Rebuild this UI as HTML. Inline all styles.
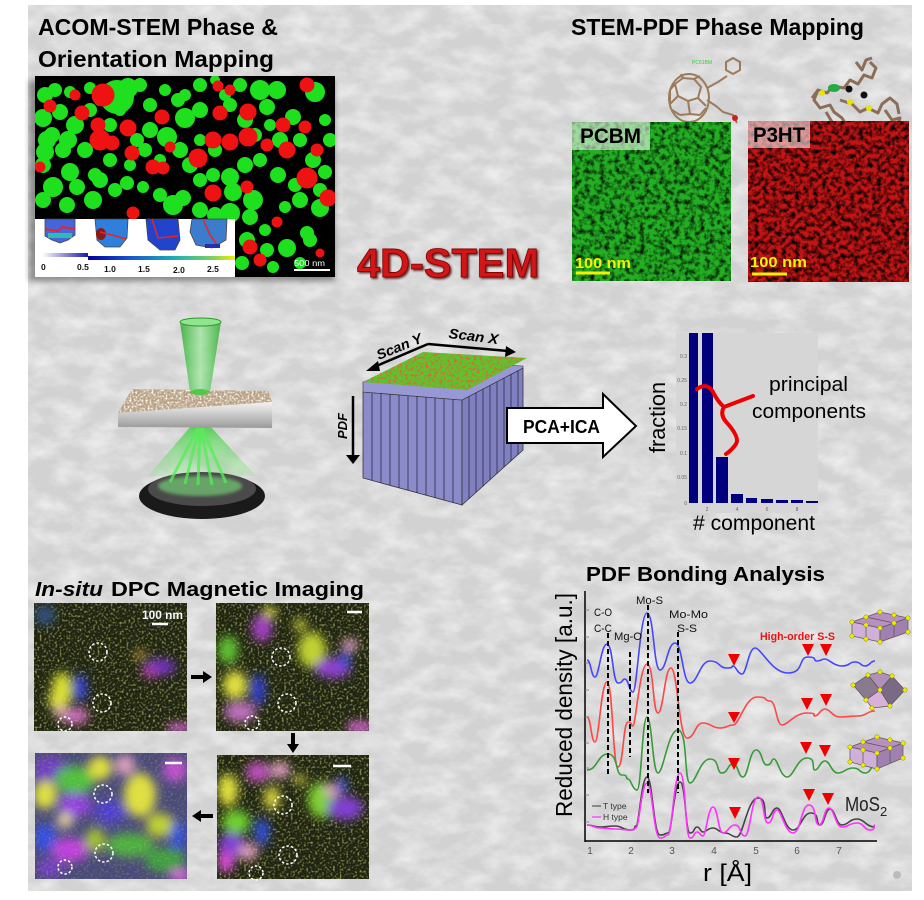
<!DOCTYPE html>
<html><head><meta charset="utf-8"><style>html,body{margin:0;padding:0;background:#fff}svg{display:block}</style></head>
<body>
<svg width="924" height="900" viewBox="0 0 924 900" xmlns="http://www.w3.org/2000/svg" font-family="'Liberation Sans', sans-serif">
<defs>
<filter id="bgtex" x="0" y="0" width="1" height="1"><feTurbulence type="fractalNoise" baseFrequency="0.035 0.06" numOctaves="4" seed="7"/><feColorMatrix values="0 0 0 0 1  0 0 0 0 1  0 0 0 0 1  1.1 0 0 0 -0.38"/></filter>
<filter id="noiseK" x="0" y="0" width="1" height="1"><feTurbulence type="fractalNoise" baseFrequency="0.2" numOctaves="3" seed="3"/><feColorMatrix values="0 0 0 0 0  0 0 0 0 0  0 0 0 0 0  2.2 0 0 0 -0.9"/></filter>
<filter id="noiseK2" x="0" y="0" width="1" height="1"><feTurbulence type="fractalNoise" baseFrequency="0.22" numOctaves="3" seed="11"/><feColorMatrix values="0 0 0 0 0  0 0 0 0 0  0 0 0 0 0  2.4 0 0 0 -0.9"/></filter>
<filter id="noiseR" x="0" y="0" width="1" height="1"><feTurbulence type="fractalNoise" baseFrequency="0.35" numOctaves="2" seed="5"/><feColorMatrix values="0 0 0 0 0.85  0 0 0 0 0.1  0 0 0 0 0.05  3 0 0 0 -1.4"/><feComposite in2="SourceGraphic" operator="in"/></filter>
<filter id="speck" x="0" y="0" width="1" height="1"><feTurbulence type="fractalNoise" baseFrequency="0.45" numOctaves="1" seed="9"/><feColorMatrix values="0 0 0 0 0.55  0 0 0 0 0.55  0 0 0 0 0.15  2.6 0 0 0 -1.3"/></filter>
<filter id="slabtex" x="0" y="0" width="1" height="1"><feTurbulence type="fractalNoise" baseFrequency="0.5" numOctaves="1" seed="4"/><feColorMatrix values="0 0 0 0 1  0 0 0 0 0.97  0 0 0 0 0.85  3 0 0 0 -1.3"/><feComposite in2="SourceGraphic" operator="in"/></filter>
<filter id="blur3" x="-50%" y="-50%" width="200%" height="200%"><feGaussianBlur stdDeviation="5"/></filter>
<filter id="blur2"><feGaussianBlur stdDeviation="1.5"/></filter>
<filter id="shad" x="-10%" y="-10%" width="130%" height="130%"><feGaussianBlur stdDeviation="3"/></filter>
<filter id="txtsh" x="-5%" y="-10%" width="115%" height="130%"><feDropShadow dx="1.5" dy="1.5" stdDeviation="1" flood-color="#400" flood-opacity="0.8"/></filter>
<clipPath id="cacom"><rect x="35" y="76" width="300" height="201"/></clipPath>
<clipPath id="d1"><rect x="34" y="603" width="153" height="128"/></clipPath>
<clipPath id="d2"><rect x="216" y="603" width="153" height="128"/></clipPath>
<clipPath id="d3"><rect x="35" y="753" width="152" height="126"/></clipPath>
<clipPath id="d4"><rect x="217" y="755" width="152" height="124"/></clipPath>
<linearGradient id="cb1" x1="0" x2="1"><stop offset="0" stop-color="#fff"/><stop offset="1" stop-color="#1a1aa8"/></linearGradient>
<linearGradient id="cb2" x1="0" x2="1"><stop offset="0" stop-color="#0000a0"/><stop offset="0.3" stop-color="#1a5acc"/><stop offset="0.6" stop-color="#20b0b0"/><stop offset="0.85" stop-color="#80d060"/><stop offset="1" stop-color="#f0f000"/></linearGradient>
<linearGradient id="cone" x1="0" x2="1"><stop offset="0" stop-color="#2fae2f" stop-opacity="0.85"/><stop offset="0.5" stop-color="#9be89b" stop-opacity="0.7"/><stop offset="1" stop-color="#2fae2f" stop-opacity="0.85"/></linearGradient>
<linearGradient id="cone2" x1="0" y1="0" x2="0" y2="1"><stop offset="0" stop-color="#3ccf3c" stop-opacity="0.8"/><stop offset="1" stop-color="#7de07d" stop-opacity="0.25"/></linearGradient>
<linearGradient id="front" x1="0" y1="0" x2="0" y2="1"><stop offset="0" stop-color="#f4f4f4"/><stop offset="1" stop-color="#9a9a9a"/></linearGradient>
</defs>

<!-- background -->
<rect width="924" height="900" fill="#fff"/>
<rect x="28" y="5" width="884" height="886" fill="#d2d2d2"/>
<rect x="28" y="5" width="884" height="886" fill="#fff" filter="url(#bgtex)"/>

<!-- titles -->
<g font-weight="bold" font-size="23" fill="#000">
<text x="38" y="35" textLength="240" lengthAdjust="spacingAndGlyphs">ACOM-STEM Phase &amp;</text>
<text x="38" y="67" textLength="236" lengthAdjust="spacingAndGlyphs">Orientation Mapping</text>
<text x="571" y="35" textLength="293" lengthAdjust="spacingAndGlyphs">STEM-PDF Phase Mapping</text>
</g>

<!-- ACOM image -->
<rect x="29" y="80" width="306" height="201" fill="#000" opacity="0.35" filter="url(#shad)"/>
<rect x="35" y="76" width="300" height="201" fill="#000"/>
<g clip-path="url(#cacom)">
<g fill="#1ee01e" stroke="#1ee01e" stroke-width="4">
<circle cx="117" cy="97" r="15"/><circle cx="128" cy="88" r="8"/><circle cx="45" cy="95" r="6"/><circle cx="55" cy="90" r="5"/><circle cx="70" cy="92" r="4"/><circle cx="90" cy="88" r="4"/><circle cx="140" cy="85" r="5"/><circle cx="165" cy="90" r="4"/><circle cx="185" cy="95" r="4"/><circle cx="200" cy="85" r="5"/><circle cx="215" cy="80" r="3"/>
<circle cx="43" cy="118" r="7"/><circle cx="60" cy="112" r="6"/><circle cx="75" cy="125" r="7"/><circle cx="90" cy="110" r="5"/><circle cx="52" cy="135" r="6"/><circle cx="68" cy="140" r="7"/><circle cx="85" cy="150" r="6"/><circle cx="45" cy="152" r="7"/><circle cx="110" cy="125" r="5"/><circle cx="120" cy="110" r="4"/><circle cx="150" cy="130" r="6"/><circle cx="167" cy="137" r="8"/><circle cx="185" cy="118" r="8"/><circle cx="178" cy="100" r="5"/><circle cx="200" cy="110" r="6"/><circle cx="145" cy="150" r="5"/><circle cx="137" cy="140" r="5"/>
<circle cx="47" cy="140" r="7"/><circle cx="63" cy="150" r="6"/><circle cx="43" cy="165" r="6"/><circle cx="70" cy="172" r="7"/><circle cx="53" cy="187" r="8"/><circle cx="77" cy="187" r="6"/><circle cx="93" cy="200" r="7"/><circle cx="43" cy="200" r="6"/><circle cx="67" cy="205" r="6"/><circle cx="100" cy="180" r="6"/><circle cx="115" cy="190" r="5"/><circle cx="127" cy="183" r="5"/><circle cx="143" cy="187" r="4"/><circle cx="160" cy="195" r="5"/><circle cx="173" cy="205" r="8"/><circle cx="183" cy="198" r="6"/><circle cx="200" cy="180" r="5"/><circle cx="190" cy="165" r="6"/><circle cx="213" cy="175" r="5"/>
<circle cx="230" cy="177" r="7"/><circle cx="233" cy="192" r="7"/><circle cx="253" cy="200" r="8"/><circle cx="230" cy="213" r="8"/><circle cx="250" cy="217" r="6"/><circle cx="215" cy="215" r="6"/><circle cx="200" cy="210" r="6"/><circle cx="285" cy="207" r="4"/><circle cx="287" cy="248" r="7"/><circle cx="307" cy="233" r="5"/><circle cx="247" cy="240" r="6"/><circle cx="267" cy="250" r="5"/><circle cx="242" cy="263" r="5"/><circle cx="273" cy="267" r="4"/><circle cx="300" cy="263" r="4"/><circle cx="310" cy="240" r="5"/><circle cx="265" cy="230" r="4"/><circle cx="320" cy="208" r="7"/><circle cx="300" cy="200" r="6"/><circle cx="313" cy="160" r="6"/><circle cx="325" cy="172" r="5"/><circle cx="295" cy="185" r="5"/><circle cx="278" cy="175" r="6"/><circle cx="260" cy="160" r="5"/><circle cx="245" cy="165" r="6"/>
<circle cx="260" cy="90" r="8"/><circle cx="277" cy="90" r="7"/><circle cx="315" cy="92" r="8"/><circle cx="267" cy="107" r="6"/><circle cx="293" cy="117" r="6"/><circle cx="280" cy="140" r="6"/><circle cx="300" cy="140" r="5"/><circle cx="245" cy="120" r="6"/><circle cx="230" cy="105" r="5"/><circle cx="255" cy="135" r="5"/><circle cx="270" cy="125" r="4"/><circle cx="325" cy="120" r="4"/><circle cx="330" cy="140" r="5"/><circle cx="320" cy="190" r="5"/><circle cx="240" cy="85" r="5"/><circle cx="225" cy="95" r="4"/><circle cx="150" cy="105" r="5"/><circle cx="100" cy="100" r="4"/><circle cx="180" cy="150" r="6"/><circle cx="160" cy="160" r="4"/><circle cx="110" cy="160" r="5"/><circle cx="95" cy="175" r="5"/><circle cx="130" cy="165" r="4"/><circle cx="215" cy="150" r="5"/><circle cx="200" cy="140" r="4"/>
</g>
<g fill="#ee1212" stroke="#ee1212" stroke-width="3">
<circle cx="103" cy="95" r="10"/><circle cx="50" cy="106" r="5"/><circle cx="82" cy="113" r="6"/><circle cx="98" cy="125" r="6"/><circle cx="128" cy="128" r="7"/><circle cx="100" cy="140" r="9"/><circle cx="112" cy="143" r="6"/><circle cx="132" cy="153" r="6"/><circle cx="162" cy="117" r="6"/><circle cx="153" cy="167" r="6"/><circle cx="163" cy="168" r="5"/><circle cx="170" cy="147" r="4"/><circle cx="198" cy="158" r="8"/><circle cx="213" cy="140" r="7"/><circle cx="230" cy="142" r="7"/><circle cx="248" cy="137" r="8"/><circle cx="248" cy="112" r="7"/><circle cx="220" cy="113" r="6"/><circle cx="230" cy="90" r="4"/><circle cx="307" cy="85" r="6"/><circle cx="283" cy="125" r="6"/><circle cx="305" cy="127" r="5"/><circle cx="287" cy="150" r="7"/><circle cx="267" cy="145" r="5"/><circle cx="307" cy="178" r="9"/><circle cx="328" cy="198" r="7"/><circle cx="317" cy="150" r="5"/><circle cx="247" cy="187" r="5"/><circle cx="213" cy="193" r="7"/><circle cx="277" cy="222" r="4"/><circle cx="250" cy="247" r="6"/><circle cx="260" cy="260" r="5"/><circle cx="320" cy="253" r="3"/><circle cx="40" cy="167" r="4"/><circle cx="133" cy="213" r="5"/><circle cx="218" cy="86" r="4"/><circle cx="75" cy="95" r="4"/>
</g>
</g>
<!-- scale bar -->
<text x="294" y="266" font-size="8" fill="#fff" textLength="31" lengthAdjust="spacingAndGlyphs">500 nm</text>
<line x1="294" y1="270" x2="330" y2="270" stroke="#fff" stroke-width="2"/>
<!-- inset -->
<rect x="35" y="219" width="200" height="58" fill="#fff"/>
<path d="M45,219 L75,219 L75,235 L68,240 L60,243 L52,240 L45,236 Z" fill="#4466dd" stroke="#444" stroke-width="0.8"/>
<path d="M45,229 L58,231 L62,227 L75,229" stroke="#ee2222" stroke-width="2" fill="none"/>
<rect x="48" y="233" width="24" height="5" fill="#30bbb0"/>
<path d="M95,219 L128,219 L127,238 L120,247 L105,247 L97,240 Z" fill="#2f7fdd" stroke="#444" stroke-width="0.8"/>
<ellipse cx="101" cy="234" rx="5" ry="6" fill="#8a1a1a"/>
<path d="M100,232 L112,235 L126,239" stroke="#ee2222" stroke-width="1.5" fill="none"/>
<path d="M146,219 L178,219 L180,240 L175,250 L160,250 L148,240 Z" fill="#2244cc" stroke="#444" stroke-width="0.8"/>
<path d="M152,219 L158,238 L178,236" stroke="#ee2222" stroke-width="1.5" fill="none"/>
<path d="M192,219 L227,219 L226,240 L212,248 L196,245 L190,232 Z" fill="#3b7ccc" stroke="#444" stroke-width="0.8"/>
<path d="M203,219 L210,235 L218,246" stroke="#ee2222" stroke-width="1.5" fill="none"/>
<rect x="205" y="244" width="15" height="4" fill="#2030b0"/>
<rect x="42" y="253" width="46" height="4" fill="url(#cb1)"/>
<rect x="88" y="256" width="147" height="4" fill="url(#cb2)"/>
<g font-size="8.5" font-weight="bold" fill="#111">
<text x="41" y="270">0</text><text x="77" y="270">0.5</text><text x="104" y="272">1.0</text><text x="138" y="272">1.5</text><text x="173" y="273">2.0</text><text x="207" y="272">2.5</text>
</g>

<!-- 4D-STEM -->
<text x="357" y="277" font-size="41" font-weight="bold" fill="#d01515" stroke="#7a0000" stroke-width="0.8" textLength="182" lengthAdjust="spacingAndGlyphs" filter="url(#txtsh)">4D-STEM</text>

<!-- PCBM molecule -->
<g stroke="#9c7b5c" stroke-width="2" fill="none">
<ellipse cx="689" cy="98" rx="20" ry="24"/>
<path d="M675,84 L683,78 L694,79 L701,87 L698,98 L688,101 L678,96 Z"/>
<path d="M670,104 L678,96 M688,101 L690,114 M698,98 L706,106 M683,78 L681,74 M694,79 L700,76 M675,84 L670,90 M680,115 L690,114 L700,115 M672,110 L680,115 M700,115 L706,108 M670,90 L670,104"/>
<path d="M707,88 L718,82 L727,76"/>
<path d="M726,62 L733,58 L740,62 L740,70 L733,74 L726,70 Z"/>
<path d="M707,100 L716,106 L723,112 L733,115 L737,123"/>
</g>
<circle cx="735" cy="118" r="3" fill="#cc2020"/>
<text x="692" y="64" font-size="5" fill="#33cc33">PC61BM</text>

<!-- P3HT molecule -->
<g stroke="#8c6e58" stroke-width="3" fill="none" stroke-linejoin="round">
<path d="M812,98 L818,90 L827,93 L833,86 L844,88 L850,80 L858,84 L864,75 L872,78 L876,68 L870,62"/>
<path d="M818,90 L814,100 L820,108 L830,105 L834,112 L842,118 L848,128 L856,124 L866,130 L876,126 L886,132 L896,128"/>
<path d="M840,100 L852,104 L860,112 L868,108 L878,113 L882,104 L890,98 L897,104 L899,114"/>
<path d="M856,62 L862,70 L866,60 L872,58 M885,110 L892,120 L900,118 L896,130 L888,138"/>
<path d="M826,112 L832,122 L838,130 L846,134 L852,142"/>
</g>
<ellipse cx="834" cy="88" rx="6" ry="4" fill="#22aa44"/>
<circle cx="849" cy="89" r="3.5" fill="#111"/><circle cx="864" cy="95" r="3.5" fill="#111"/>
<g fill="#e6e600"><circle cx="822" cy="93" r="3"/><circle cx="850" cy="102" r="3"/><circle cx="869" cy="108" r="3"/><circle cx="879" cy="128" r="3"/></g>

<!-- PCBM map -->
<rect x="572" y="122" width="159" height="159" fill="#22b022"/>
<rect x="572" y="122" width="159" height="159" filter="url(#noiseK)"/>
<rect x="572" y="122" width="78" height="28" fill="#fff" opacity="0.55"/>
<text x="580" y="143" font-size="21" font-weight="bold" fill="#000" textLength="61" lengthAdjust="spacingAndGlyphs">PCBM</text>
<text x="575" y="268" font-size="15" font-weight="bold" fill="#f2f200" textLength="56" lengthAdjust="spacingAndGlyphs">100 nm</text>
<line x1="576" y1="273" x2="610" y2="273" stroke="#f2f200" stroke-width="3"/>

<!-- P3HT map -->
<rect x="748" y="121" width="161" height="161" fill="#c41414"/>
<rect x="748" y="121" width="161" height="161" filter="url(#noiseK2)"/>
<rect x="748" y="121" width="62" height="27" fill="#fff" opacity="0.55"/>
<text x="753" y="142" font-size="21" font-weight="bold" fill="#000" textLength="52" lengthAdjust="spacingAndGlyphs">P3HT</text>
<text x="750" y="267" font-size="15" font-weight="bold" fill="#f2f200" textLength="57" lengthAdjust="spacingAndGlyphs">100 nm</text>
<line x1="752" y1="274" x2="787" y2="274" stroke="#f2f200" stroke-width="3"/>

<!-- beam illustration -->
<path d="M180,322 L221,322 L210,392 L190,392 Z" fill="url(#cone)"/>
<ellipse cx="200.5" cy="322" rx="20.5" ry="4" fill="#8fe68f" stroke="#2a9a2a" stroke-width="1"/>
<path d="M191,426 L210,426 L256,476 L148,476 Z" fill="url(#cone2)"/>
<ellipse cx="202" cy="496" rx="63" ry="23" fill="#1a1a1a"/>
<ellipse cx="202" cy="489" rx="54" ry="17" fill="#4a4a4a"/>
<ellipse cx="200" cy="486" rx="42" ry="10" fill="#7de07d" opacity="0.6" filter="url(#blur2)"/>
<g stroke="#55ee55" stroke-width="3" opacity="0.75">
<line x1="198" y1="428" x2="170" y2="482"/><line x1="199" y1="428" x2="185" y2="484"/><line x1="200" y1="428" x2="198" y2="485"/><line x1="201" y1="428" x2="212" y2="485"/><line x1="202" y1="428" x2="226" y2="483"/>
</g>
<path d="M132,389 L268,391 L272,402 L118,413 Z" fill="#b8a087"/>
<path d="M132,389 L268,391 L272,402 L118,413 Z" fill="#000" filter="url(#slabtex)"/>
<path d="M118,413 L272,402 L272,428 L118,427 Z" fill="url(#front)"/>
<ellipse cx="200" cy="392" rx="10" ry="3" fill="#3c3" opacity="0.8"/>

<!-- cube -->
<path d="M363,392 L462,400 L462,505 L363,478 Z" fill="#8b8bc9" stroke="#333" stroke-width="0.8"/>
<path d="M462,400 L523,368 L523,450 L462,505 Z" fill="#8080c0" stroke="#333" stroke-width="0.8"/>
<path d="M363,392 L363,382 L423,362 L523,366 L523,368 L462,400 Z" fill="#9898d4" stroke="#333" stroke-width="0.6"/>
<g stroke="#2a2a4a" stroke-width="0.8">
<line x1="372" y1="393" x2="372" y2="480"/><line x1="381" y1="393" x2="381" y2="483"/><line x1="390" y1="394" x2="390" y2="485"/><line x1="399" y1="395" x2="399" y2="488"/><line x1="408" y1="396" x2="408" y2="490"/><line x1="417" y1="396" x2="417" y2="493"/><line x1="426" y1="397" x2="426" y2="495"/><line x1="435" y1="398" x2="435" y2="498"/><line x1="444" y1="399" x2="444" y2="500"/><line x1="453" y1="399" x2="453" y2="503"/>
<line x1="469" y1="396" x2="469" y2="499"/><line x1="476" y1="393" x2="476" y2="492"/><line x1="483" y1="389" x2="483" y2="486"/><line x1="490" y1="385" x2="490" y2="480"/><line x1="497" y1="382" x2="497" y2="474"/><line x1="504" y1="378" x2="504" y2="467"/><line x1="511" y1="374" x2="511" y2="461"/><line x1="518" y1="371" x2="518" y2="455"/>
</g>
<path d="M363,382 L423,352 L527,358 L467,390 Z" fill="#5cc42c"/>
<path d="M363,382 L423,352 L527,358 L467,390 Z" fill="#000" filter="url(#noiseR)"/>
<!-- scan arrows -->
<g stroke="#000" stroke-width="2.5" fill="none"><line x1="428" y1="344" x2="374" y2="367"/><line x1="428" y1="344" x2="508" y2="351"/><line x1="353" y1="396" x2="353" y2="456"/></g>
<path d="M366,371 L378,361 L380,371 Z" fill="#000"/>
<path d="M516,352 L506,346 L505,357 Z" fill="#000"/>
<path d="M346,455 L360,455 L353,464 Z" fill="#000"/>
<g font-size="14" font-weight="bold" font-style="italic" fill="#000">
<text transform="translate(401,351) rotate(-22)" text-anchor="middle" textLength="48" lengthAdjust="spacingAndGlyphs">Scan Y</text>
<text transform="translate(473,341) rotate(7)" text-anchor="middle" textLength="50" lengthAdjust="spacingAndGlyphs">Scan X</text>
<text transform="translate(347,426) rotate(-90)" text-anchor="middle" font-size="13">PDF</text>
</g>

<!-- PCA+ICA arrow -->
<path d="M507,408 L603,408 L603,394 L636,426 L603,457 L603,443 L507,443 Z" fill="#fff" stroke="#000" stroke-width="2"/>
<text x="523" y="433" font-size="18" font-weight="bold" fill="#000" textLength="77" lengthAdjust="spacingAndGlyphs">PCA+ICA</text>

<!-- bar chart -->
<rect x="676" y="333" width="142" height="180" fill="#d6d6d6"/>
<g fill="#00007f">
<rect x="689" y="333" width="9" height="170"/><rect x="702" y="333" width="11" height="170"/><rect x="716" y="457" width="12" height="46"/><rect x="731" y="494" width="12" height="9"/><rect x="746" y="498" width="11" height="5"/><rect x="761" y="499" width="12" height="4"/><rect x="776" y="500" width="12" height="3"/><rect x="791" y="500" width="12" height="3"/><rect x="806" y="501" width="12" height="2"/>
</g>
<g font-size="5" fill="#666" text-anchor="end">
<text x="687" y="358">0.3</text><text x="687" y="382">0.25</text><text x="687" y="406">0.2</text><text x="687" y="430">0.15</text><text x="687" y="455">0.1</text><text x="687" y="479">0.05</text><text x="687" y="505">0</text>
</g>
<g font-size="5" fill="#666" text-anchor="middle"><text x="707" y="511">2</text><text x="737" y="511">4</text><text x="767" y="511">6</text><text x="797" y="511">8</text></g>
<text transform="translate(665,453) rotate(-90)" font-size="22" fill="#000" textLength="71" lengthAdjust="spacingAndGlyphs">fraction</text>
<text x="693" y="530" font-size="21" fill="#000" textLength="122" lengthAdjust="spacingAndGlyphs"># component</text>
<text x="769" y="391" font-size="20" fill="#000" textLength="79" lengthAdjust="spacingAndGlyphs">principal</text>
<text x="752" y="418" font-size="20" fill="#000" textLength="114" lengthAdjust="spacingAndGlyphs">components</text>
<path d="M697,389 Q707,382 713,392 Q718,402 724,407 L753,396 M724,407 Q719,415 728,424 Q740,438 736,444 Q732,450 726,454" stroke="#ee0000" stroke-width="4" fill="none" stroke-linecap="round"/>

<!-- DPC title -->
<text x="35" y="596" font-size="20" font-weight="bold" font-style="italic" fill="#000" textLength="68" lengthAdjust="spacingAndGlyphs">In-situ</text>
<text x="111" y="596" font-size="20" font-weight="bold" fill="#000" textLength="253" lengthAdjust="spacingAndGlyphs">DPC Magnetic Imaging</text>

<!-- DPC TL -->
<g clip-path="url(#d1)">
<rect x="34" y="603" width="153" height="128" fill="#1f2512"/>
<rect x="34" y="603" width="153" height="128" filter="url(#speck)"/>
<g filter="url(#blur3)">
<ellipse cx="45" cy="615" rx="10" ry="10" fill="#305080"/>
<ellipse cx="62" cy="690" rx="10" ry="18" fill="#d8e030"/>
<ellipse cx="55" cy="700" rx="6" ry="10" fill="#e0e040"/>
<ellipse cx="80" cy="688" rx="7" ry="14" fill="#3040d0"/>
<ellipse cx="75" cy="716" rx="14" ry="8" fill="#d070c0"/>
<ellipse cx="60" cy="712" rx="6" ry="6" fill="#e0b0b0"/>
<ellipse cx="160" cy="667" rx="16" ry="8" fill="#7030c0"/>
<ellipse cx="150" cy="672" rx="8" ry="5" fill="#c040c0"/>
<ellipse cx="180" cy="728" rx="14" ry="4" fill="#f070f0"/>
<ellipse cx="140" cy="655" rx="6" ry="4" fill="#d0a040"/>
</g>
</g>
<!-- DPC TR -->
<g clip-path="url(#d2)">
<rect x="216" y="603" width="153" height="128" fill="#1f2512"/>
<rect x="216" y="603" width="153" height="128" filter="url(#speck)"/>
<g filter="url(#blur3)">
<ellipse cx="228" cy="650" rx="10" ry="14" fill="#60c030"/>
<ellipse cx="235" cy="685" rx="12" ry="14" fill="#e0e040"/>
<ellipse cx="240" cy="712" rx="16" ry="10" fill="#c070c0"/>
<ellipse cx="258" cy="690" rx="7" ry="16" fill="#3040d0"/>
<ellipse cx="262" cy="628" rx="10" ry="14" fill="#a040c0"/>
<ellipse cx="270" cy="612" rx="6" ry="6" fill="#e0e040"/>
<ellipse cx="312" cy="650" rx="14" ry="18" fill="#c0d030"/>
<ellipse cx="333" cy="668" rx="18" ry="10" fill="#9040d0"/>
<ellipse cx="350" cy="645" rx="8" ry="6" fill="#e0a0c0"/>
<ellipse cx="345" cy="660" rx="5" ry="10" fill="#3050e0"/>
<ellipse cx="360" cy="727" rx="14" ry="5" fill="#f070f0"/>
<ellipse cx="300" cy="625" rx="6" ry="6" fill="#d0d040"/>
</g>
</g>
<!-- DPC BL -->
<g clip-path="url(#d3)">
<rect x="35" y="753" width="152" height="126" fill="#4a4a7a"/>
<g filter="url(#blur3)">
<ellipse cx="50" cy="770" rx="18" ry="14" fill="#7040c0"/>
<ellipse cx="75" cy="780" rx="20" ry="14" fill="#50c040"/>
<ellipse cx="100" cy="768" rx="12" ry="12" fill="#e0e040"/>
<ellipse cx="45" cy="795" rx="12" ry="14" fill="#e0e040"/>
<ellipse cx="75" cy="805" rx="16" ry="12" fill="#9040e0"/>
<ellipse cx="110" cy="812" rx="16" ry="12" fill="#5040d0"/>
<ellipse cx="45" cy="838" rx="12" ry="14" fill="#3050e0"/>
<ellipse cx="70" cy="850" rx="18" ry="12" fill="#c040e0"/>
<ellipse cx="50" cy="868" rx="14" ry="10" fill="#7040c0"/>
<ellipse cx="140" cy="795" rx="16" ry="22" fill="#e0e040"/>
<ellipse cx="160" cy="825" rx="14" ry="12" fill="#c0d030"/>
<ellipse cx="130" cy="845" rx="24" ry="12" fill="#50b040"/>
<ellipse cx="165" cy="860" rx="20" ry="12" fill="#40a040"/>
<ellipse cx="178" cy="835" rx="8" ry="14" fill="#3050e0"/>
<ellipse cx="175" cy="770" rx="12" ry="12" fill="#c050d0"/>
<ellipse cx="125" cy="765" rx="10" ry="10" fill="#e0a0c0"/>
<ellipse cx="95" cy="840" rx="10" ry="12" fill="#a0c030"/>
<ellipse cx="180" cy="875" rx="10" ry="5" fill="#f070f0"/>
<ellipse cx="65" cy="820" rx="8" ry="8" fill="#e0d0a0"/>
</g>
<rect x="35" y="753" width="152" height="126" filter="url(#speck)" opacity="0.4"/>
</g>
<!-- DPC BR -->
<g clip-path="url(#d4)">
<rect x="217" y="755" width="152" height="124" fill="#1f2512"/>
<rect x="217" y="755" width="152" height="124" filter="url(#speck)"/>
<g filter="url(#blur3)">
<ellipse cx="228" cy="790" rx="10" ry="16" fill="#e0e040"/>
<ellipse cx="236" cy="822" rx="14" ry="12" fill="#70d030"/>
<ellipse cx="232" cy="845" rx="14" ry="12" fill="#8040d0"/>
<ellipse cx="226" cy="862" rx="8" ry="10" fill="#e050e0"/>
<ellipse cx="248" cy="852" rx="10" ry="8" fill="#e0a0c0"/>
<ellipse cx="262" cy="832" rx="7" ry="14" fill="#3050e0"/>
<ellipse cx="258" cy="772" rx="12" ry="10" fill="#c050c0"/>
<ellipse cx="280" cy="770" rx="10" ry="8" fill="#e0a0c0"/>
<ellipse cx="272" cy="798" rx="8" ry="12" fill="#d0d040"/>
<ellipse cx="322" cy="800" rx="14" ry="18" fill="#80d030"/>
<ellipse cx="345" cy="808" rx="18" ry="12" fill="#8040d0"/>
<ellipse cx="332" cy="790" rx="8" ry="6" fill="#e0a0c0"/>
<ellipse cx="342" cy="785" rx="5" ry="8" fill="#3050e0"/>
<ellipse cx="300" cy="780" rx="6" ry="5" fill="#d0d040"/>
</g>
</g>
<!-- DPC circles, scale bars -->
<g stroke="#fff" stroke-width="1.5" stroke-dasharray="2.5 2" fill="none">
<circle cx="98" cy="652" r="9"/><circle cx="102" cy="703" r="9"/><circle cx="65" cy="724" r="7"/>
<circle cx="281" cy="657" r="9"/><circle cx="287" cy="703" r="9"/><circle cx="252" cy="723" r="7"/>
<circle cx="103" cy="794" r="9"/><circle cx="104" cy="853" r="9"/><circle cx="65" cy="867" r="7"/>
<circle cx="283" cy="805" r="9"/><circle cx="288" cy="855" r="9"/><circle cx="256" cy="873" r="7"/>
</g>
<text x="142" y="619" font-size="12" font-weight="bold" fill="#f4f8ff" textLength="41" lengthAdjust="spacingAndGlyphs">100 nm</text>
<g stroke="#fff" stroke-width="2.5"><line x1="152" y1="624" x2="168" y2="624"/><line x1="347" y1="612" x2="362" y2="612"/><line x1="165" y1="763" x2="182" y2="763"/><line x1="333" y1="766" x2="351" y2="766"/></g>
<!-- DPC arrows -->
<g stroke="#000" stroke-width="4"><line x1="191" y1="677" x2="205" y2="677"/><line x1="293" y1="733" x2="293" y2="746"/><line x1="213" y1="816" x2="200" y2="816"/></g>
<path d="M203,671 L212,677 L203,683 Z M287,744 L299,744 L293,753 Z M201,810 L192,816 L201,822 Z" fill="#000"/>

<!-- PDF Bonding Analysis -->
<text x="586" y="581" font-size="20" font-weight="bold" fill="#000" textLength="239" lengthAdjust="spacingAndGlyphs">PDF Bonding Analysis</text>
<line x1="585" y1="591" x2="585" y2="842" stroke="#000" stroke-width="1.5"/>
<line x1="585" y1="841" x2="877" y2="841" stroke="#000" stroke-width="1.5"/>
<g stroke="#777" stroke-width="0.8"><line x1="585" y1="610" x2="589" y2="610"/><line x1="585" y1="637" x2="589" y2="637"/><line x1="585" y1="663" x2="589" y2="663"/><line x1="585" y1="690" x2="589" y2="690"/><line x1="585" y1="717" x2="589" y2="717"/><line x1="585" y1="743" x2="589" y2="743"/><line x1="585" y1="768" x2="589" y2="768"/><line x1="585" y1="795" x2="589" y2="795"/><line x1="585" y1="822" x2="589" y2="822"/></g>
<g font-size="10" fill="#555" text-anchor="middle"><text x="590" y="854">1</text><text x="631" y="854">2</text><text x="672" y="854">3</text><text x="714" y="854">4</text><text x="756" y="854">5</text><text x="797" y="854">6</text><text x="839" y="854">7</text></g>
<text x="703" y="881" font-size="24" fill="#000" textLength="49" lengthAdjust="spacingAndGlyphs">r [Å]</text>
<text transform="translate(572,817) rotate(-90)" font-size="23" fill="#000" textLength="224" lengthAdjust="spacingAndGlyphs">Reduced density [a.u.]</text>

<g fill="none" stroke-width="1.6">
<path stroke="#4646ff" d="M587,660 C591,660 591,677 595,677 S601,644 607,644 S612.5,683 618,683 S621.5,679 625,679 S629,692 633,692 S640,613 647,613 S653.5,670 660,670 S667.5,643 675,643 S682.5,683 690,683 S700,661 710,661 S718.5,668 727,668 S730,666 733,666 S737.5,674 742,674 S748.5,648 755,648 S771.5,673 788,673 S798,657 808,657 S812.5,661 817,661 S821,659 825,659 S833.5,666 842,666 S848.5,662 855,662 S860,666 865,666 S870,661 875,661"/>
<path stroke="#ff4646" d="M587,717 C591,717 591,742 595,742 S601,682 607,682 S612.5,767 618,767 S623,722 628,722 S630.5,726 633,726 S640,664 647,664 S652.5,713 658,713 S664.5,668 671,668 S679,738 687,738 S695,723 703,723 S711.5,728 720,728 S726.5,725 733,725 S745,697 757,697 S763.5,701 770,701 S776,725 782,725 S794.5,713 807,713 S811,716 815,716 S820,709 825,709 S832.5,717 840,717 S849,716 858,716 S866.5,711 875,711"/>
<path stroke="#3a9a3a" d="M587,770 C597.5,770 597.5,754 608,754 S615,775 622,775 S625,779 628,779 S632.5,790 637,790 S642,717 647,717 S652.5,773 658,773 S668,730 678,730 S684,783 690,783 S700,759 710,759 S716,773 722,773 S727.5,764 733,764 S738,777 743,777 S749.5,750 756,750 S761.5,765 767,765 S770.5,759 774,759 S780.5,777 787,777 S797,758 807,758 S811,770 815,770 S820,761 825,761 S831.5,773 838,773 S845.5,768 853,768 S859,773 865,773 S870,766 875,766"/>
<path stroke="#444" d="M587,825 C593.5,825 593.5,827 600,827 S607.5,826 615,826 S622.5,830 630,830 S633,826 636,826 S641.5,777 647,777 S653.5,835 660,835 S664,833 668,833 S674,782 680,782 S685,833 690,833 S693.5,827 697,827 S700,832 703,832 S708,828 713,828 S719,833 725,833 S731,837 737,837 S747.5,798 758,798 S762.5,818 767,818 S772,808 777,808 S785,830 793,830 S802,813 811,813 S815.5,825 820,825 S825,809 830,809 S836,825 842,825 S849.5,819 857,819 S866,827 875,827"/>
<path stroke="#ff30ff" d="M587,825 C593.5,825 593.5,828 600,828 S607.5,829 615,829 S622.5,830 630,830 S633,828 636,828 S641.5,783 647,783 S653.5,838 660,838 S664,835 668,835 S674,773 680,773 S685,838 690,838 S693.5,832 697,832 S700,836 703,836 S708,807 713,807 S718,833 723,833 S729,825 735,825 S740,836 745,836 S751.5,797 758,797 S763,823 768,823 S772.5,810 777,810 S785,833 793,833 S801,805 809,805 S814,825 819,825 S824,808 829,808 S835.5,827 842,827 S849.5,823 857,823 S863.5,830 870,830 S872.5,825 875,825"/>
</g>
<g stroke="#000" stroke-width="2" stroke-dasharray="5 3">
<line x1="608" y1="633" x2="608" y2="775"/><line x1="630" y1="652" x2="630" y2="757"/><line x1="648" y1="605" x2="648" y2="793"/><line x1="678" y1="632" x2="678" y2="793"/>
</g>
<g font-size="11" fill="#111">
<text x="594" y="616" textLength="18" lengthAdjust="spacingAndGlyphs">C-O</text>
<text x="594" y="632" textLength="18" lengthAdjust="spacingAndGlyphs">C-C</text>
<text x="614" y="640" textLength="28" lengthAdjust="spacingAndGlyphs">Mg-O</text>
<text x="636" y="604" textLength="27" lengthAdjust="spacingAndGlyphs">Mo-S</text>
<text x="669" y="618" textLength="39" lengthAdjust="spacingAndGlyphs">Mo-Mo</text>
<text x="677" y="632" textLength="20" lengthAdjust="spacingAndGlyphs">S-S</text>
</g>
<text x="760" y="640" font-size="11" font-weight="bold" fill="#ee1111" textLength="75" lengthAdjust="spacingAndGlyphs">High-order S-S</text>
<g fill="#ee0000">
<path d="M728,654 L740,654 L734,666 Z M802,644 L814,644 L808,656 Z M820,644 L832,644 L826,656 Z"/>
<path d="M728,712 L740,712 L734,723 Z M801,698 L813,698 L807,710 Z M820,694 L832,694 L826,706 Z"/>
<path d="M728,758 L740,758 L734,770 Z M800,742 L812,742 L806,754 Z M819,745 L831,745 L825,757 Z"/>
<path d="M729,807 L741,807 L735,819 Z M803,789 L815,789 L809,801 Z M822,793 L834,793 L828,805 Z"/>
</g>
<!-- legend -->
<line x1="592" y1="806" x2="601" y2="806" stroke="#555" stroke-width="1.2"/>
<line x1="592" y1="817" x2="601" y2="817" stroke="#ff30ff" stroke-width="1.2"/>
<text x="603" y="809" font-size="8.5" fill="#333">T type</text>
<text x="603" y="820" font-size="8.5" fill="#333">H type</text>
<text x="845" y="811" font-size="20" fill="#222" textLength="35" lengthAdjust="spacingAndGlyphs">MoS</text>
<text x="880" y="816" font-size="13" fill="#222">2</text>

<!-- crystal structures -->
<g stroke="#555" stroke-width="0.7">
<path d="M852,622 L880,612 L908,618 L880,628 Z" fill="#b890c0"/>
<path d="M852,622 L880,628 L880,642 L852,636 Z" fill="#d0b0d8"/>
<path d="M880,628 L908,618 L908,632 L880,642 Z" fill="#a080b0"/>
<path d="M866,617 L894,623 M866,625 L866,639 M894,623 L894,637" fill="none"/>
<path d="M853,685 L868,675 L880,690 L866,700 Z" fill="#8a7a90"/>
<path d="M866,700 L880,690 L890,706 L872,708 Z" fill="#d8b0d8"/>
<path d="M880,690 L892,676 L905,690 L890,706 Z" fill="#7a6a85"/>
<path d="M868,675 L880,672 L892,676 L880,690 Z" fill="#b090b8"/>
<path d="M850,747 L877,737 L903,743 L877,753 Z" fill="#b890c0"/>
<path d="M850,747 L877,753 L877,769 L850,762 Z" fill="#d0b0d8"/>
<path d="M877,753 L903,743 L903,758 L877,769 Z" fill="#a080b0"/>
<path d="M863,742 L890,748 M863,750 L863,765 M890,748 L890,763" fill="none"/>
</g>
<g fill="#eeee00" stroke="#888800" stroke-width="0.5">
<circle cx="852" cy="622" r="2.2"/><circle cx="866" cy="617" r="2.2"/><circle cx="880" cy="612" r="2.2"/><circle cx="894" cy="615" r="2.2"/><circle cx="908" cy="618" r="2.2"/><circle cx="880" cy="628" r="2.2"/><circle cx="894" cy="623" r="2.2"/><circle cx="866" cy="625" r="2.2"/><circle cx="852" cy="636" r="2.2"/><circle cx="880" cy="642" r="2.2"/><circle cx="908" cy="632" r="2.2"/><circle cx="866" cy="639" r="2.2"/>
<circle cx="853" cy="685" r="2.2"/><circle cx="868" cy="675" r="2.2"/><circle cx="880" cy="672" r="2.2"/><circle cx="892" cy="676" r="2.2"/><circle cx="905" cy="690" r="2.2"/><circle cx="880" cy="690" r="2.2"/><circle cx="866" cy="700" r="2.2"/><circle cx="872" cy="708" r="2.2"/><circle cx="890" cy="706" r="2.2"/>
<circle cx="850" cy="747" r="2.2"/><circle cx="863" cy="742" r="2.2"/><circle cx="877" cy="737" r="2.2"/><circle cx="890" cy="740" r="2.2"/><circle cx="903" cy="743" r="2.2"/><circle cx="877" cy="753" r="2.2"/><circle cx="890" cy="748" r="2.2"/><circle cx="863" cy="750" r="2.2"/><circle cx="850" cy="762" r="2.2"/><circle cx="877" cy="769" r="2.2"/><circle cx="903" cy="758" r="2.2"/><circle cx="863" cy="765" r="2.2"/>
</g>
<circle cx="897" cy="875" r="4" fill="#bbb"/>
</svg>
</body></html>
